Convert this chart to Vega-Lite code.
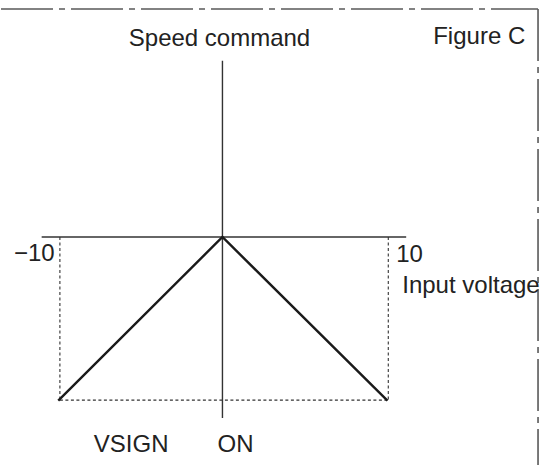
{
  "$schema": "https://vega.github.io/schema/vega-lite/v6.json",
  "width": 540,
  "height": 466,
  "padding": 0,
  "autosize": {"type": "fit", "contains": "padding"},
  "background": "white",
  "config": {"view": {"stroke": null}},
  "datasets": {
    "axes": [
      {"x": -11.11, "x2": 11.09, "y": 0, "y2": 0},
      {"x": -0.1, "x2": -0.1, "y": 1.081, "y2": -1.11}
    ],
    "dotted": [
      {"x": -10, "x2": -10, "y": 0, "y2": -1},
      {"x": 10, "x2": 10, "y": 0, "y2": -1},
      {"x": -10, "x2": 10, "y": -1, "y2": -1}
    ],
    "border": [
      {"x": -13.587, "x2": 19.12, "y": 1.3976, "y2": 1.3976},
      {"x": 19.12, "x2": 19.12, "y": 1.3976, "y2": -1.3976}
    ],
    "curve": [
      {"voltage": -10.1, "speed": -1.003},
      {"voltage": -0.1, "speed": 0},
      {"voltage": 9.95, "speed": -1.003}
    ],
    "labels": [
      {"x": -5.805, "y": 1.1713, "t": "Speed command"},
      {"x": 12.736, "y": 1.1835, "t": "Figure C"},
      {"x": -12.796, "y": -0.1498, "t": "−10"},
      {"x": 10.486, "y": -0.156, "t": "10"},
      {"x": 10.851, "y": -0.3456, "t": "Input voltage"},
      {"x": -7.933, "y": -1.318, "t": "VSIGN"},
      {"x": -0.395, "y": -1.318, "t": "ON"}
    ]
  },
  "layer": [
    {
      "data": {"name": "border"},
      "mark": {"type": "rule", "color": "#5a5a5a", "strokeWidth": 1.6, "strokeDash": [52, 6, 6, 6]},
      "encoding": {
        "x": {"field": "x", "type": "quantitative", "scale": {"domain": [-13.587, 19.24], "nice": false, "zero": false}, "axis": null},
        "x2": {"field": "x2"},
        "y": {"field": "y", "type": "quantitative", "scale": {"domain": [-1.3976, 1.4526], "nice": false, "zero": false}, "axis": null},
        "y2": {"field": "y2"}
      }
    },
    {
      "data": {"name": "axes"},
      "mark": {"type": "rule", "color": "#333333", "strokeWidth": 1.4},
      "encoding": {
        "x": {"field": "x", "type": "quantitative"},
        "x2": {"field": "x2"},
        "y": {"field": "y", "type": "quantitative"},
        "y2": {"field": "y2"}
      }
    },
    {
      "data": {"name": "dotted"},
      "mark": {"type": "rule", "color": "#333333", "strokeWidth": 1.1, "strokeDash": [3, 2.5]},
      "encoding": {
        "x": {"field": "x", "type": "quantitative"},
        "x2": {"field": "x2"},
        "y": {"field": "y", "type": "quantitative"},
        "y2": {"field": "y2"}
      }
    },
    {
      "data": {"name": "curve"},
      "mark": {"type": "line", "color": "#1a1a1a", "strokeWidth": 2.4},
      "encoding": {
        "x": {"field": "voltage", "type": "quantitative"},
        "y": {"field": "speed", "type": "quantitative"}
      }
    },
    {
      "data": {"name": "labels"},
      "mark": {"type": "text", "font": "Liberation Sans", "fontSize": 24, "color": "#222222", "align": "left", "baseline": "alphabetic"},
      "encoding": {
        "x": {"field": "x", "type": "quantitative"},
        "y": {"field": "y", "type": "quantitative"},
        "text": {"field": "t"}
      }
    }
  ]
}
